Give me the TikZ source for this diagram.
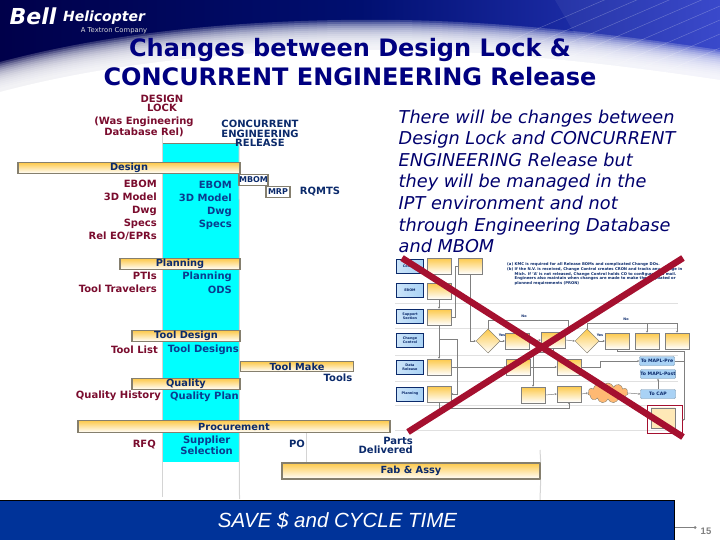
\documentclass[tikz,border=0pt]{standalone}
\usepackage{fontspec}
\usepackage{xcolor}
\usetikzlibrary{arrows.meta, shapes.geometric, shapes.symbols}
\setmainfont{DejaVu Sans}
\newfontfamily\arialfont{Liberation Sans}
\definecolor{navyTitle}{HTML}{000080}
\definecolor{navyText}{HTML}{0B2A6B}
\definecolor{blueText}{HTML}{0A3D8F}
\definecolor{maroonText}{HTML}{7A0C2E}
\definecolor{barTop}{HTML}{FDC94A}
\definecolor{barEdge}{HTML}{857F6E}
\definecolor{guideGray}{HTML}{D4D4D4}
\definecolor{crossRed}{HTML}{A5102F}
\definecolor{laneBlue}{HTML}{A9D2F5}
\definecolor{saveBlue}{HTML}{003399}
\definecolor{phaseCyan}{HTML}{00FFFF}
\definecolor{skyLeft}{HTML}{00004A}
\definecolor{skyMid}{HTML}{000F70}
\definecolor{skyRight}{HTML}{2E3EC8}
\tikzset{
  bar/.style={draw=barEdge, line width=1.4pt, top color=barTop, bottom color=white, inner sep=0pt,
    text=navyText, font=\fontsize{9.8}{10}\selectfont\bfseries},
  lock/.style={anchor=east, inner sep=0pt, text=maroonText, font=\fontsize{10}{9}\selectfont\bfseries},
  release/.style={anchor=east, inner sep=0pt, text=blueText, font=\fontsize{10}{9}\selectfont\bfseries},
  later/.style={inner sep=0pt, text=navyText, font=\fontsize{10}{9.4}\selectfont\bfseries},
  guide/.style={draw=guideGray, line width=1pt},
  mini/.style={font=\fontsize{3.4}{3.8}\selectfont\bfseries, text=navyText, align=center, inner sep=0pt},
  lanebox/.style={mini, draw=navyText, line width=.7pt, left color=laneBlue!60!white, right color=laneBlue, minimum width=27pt, minimum height=14pt},
  stepbox/.style={mini, draw=gray, line width=.5pt, top color=barTop, bottom color=white, minimum width=24pt, minimum height=16pt},
  tobox/.style={mini, font=\fontsize{4.6}{5}\selectfont\bfseries, draw=laneBlue!70!black, line width=.4pt, fill=laneBlue, rounded corners=1pt, minimum width=35pt, minimum height=9pt},
  gate/.style={mini, diamond, aspect=1, draw=barEdge, line width=.5pt, top color=barTop, bottom color=white, minimum size=24pt},
  flow/.style={draw=gray, line width=.5pt},
  flowto/.style={flow, ->, >={Stealth[length=2pt,width=2pt]}},
  lanerule/.style={draw=black!12, line width=.4pt},
  crossbar/.style={draw=crossRed, line width=6.5pt},
}
\begin{document}
\begin{tikzpicture}[x=1pt, y=-1pt, >=Stealth]
    \useasboundingbox (0,0) rectangle (720,540);
    % header
    \shade[left color=skyLeft, right color=skyRight, middle color=skyMid] (0,0) rectangle (720,96);
    \fill[white, opacity=.06] (555,0) -- (720,0) -- (720,60) -- (590,60) -- cycle;
    \foreach \n in {0,14,...,98} {
      \draw[white, opacity=.25, line width=.5pt] (500,45+\n) -- (720,-50+\n);
    }
    \foreach \d in {0,2,...,26} {
      \fill[white, opacity=.2] (0,88-\d) .. controls (120,56-\d) and (260,44-\d) .. (400,46-\d)
        .. controls (520,48-\d) and (640,64-\d) .. (720,76-\d) -- (720,97) -- (0,97) -- cycle;
    }
    \fill[white] (0,92) .. controls (120,60) and (260,48) .. (400,50)
        .. controls (520,52) and (640,68) .. (720,80) -- (720,97) -- (0,97) -- cycle;
    \node[text=white, font=\fontsize{22}{22}\selectfont\bfseries\itshape, inner sep=0pt] (logoBell) at (33,16) {Bell};
    \node[text=white, font=\fontsize{14}{14}\selectfont\bfseries\itshape, inner sep=0pt] (logoHeli) at (104,18) {Helicopter};
    \node[text=white!85!black, font=\fontsize{6.8}{7}\selectfont, inner sep=0pt] (logoSub) at (114,31) {A Textron Company};
    % title
    \node[text=navyTitle, align=center, inner sep=0pt, font=\fontsize{24}{29}\selectfont\bfseries] (title) at (350,62)
      {Changes between Design Lock \&\\CONCURRENT ENGINEERING Release};
    % phase column and gate lines
    \node[fill=phaseCyan, minimum width=76pt, minimum height=318pt, inner sep=0pt] (phase) at (201,303) {};
    \draw[draw=barEdge, line width=1.4pt] (phase.north west) -- (phase.north east);
    \coordinate (lockTop) at (162.5,134);
    \coordinate (lockEnd) at (162.5,497);
    \coordinate (relEnd) at (239.5,499);
    \draw[guide] (lockTop) -- (lockEnd);
    \draw[guide] (phase.north east) -- (relEnd);
    % bars
    \node[bar, minimum width=222pt, minimum height=11pt] (design) at (129,168) {Design};
    \node[bar, minimum width=120pt, minimum height=11pt] (planning) at (180,264) {Planning};
    \node[bar, minimum width=108pt, minimum height=11pt] (toolDesign) at (186,336) {Tool Design};
    \node[bar, minimum width=113pt, minimum height=10pt] (toolMake) at (297,366.5) {Tool Make};
    \node[bar, minimum width=108pt, minimum height=11pt] (quality) at (186,384) {Quality};
    \node[bar, minimum width=312pt, minimum height=12pt] (procure) at (234,426.5) {Procurement};
    \node[bar, minimum width=258pt, minimum height=16pt] (fab) at (411,471) {Fab \& Assy};
    \draw[guide] (procure.south -| 306,0) -- (fab.north -| 306,0);
    \draw[guide] (540,450) -- (fab.north east);
    \draw[guide] (fab.south east) -- (540,500);
    % small boxes
    \node[bar, top color=white, minimum width=25pt, minimum height=11pt, font=\fontsize{8}{8}\selectfont\bfseries] (mbom) at (253.5,180) {MBOM};
    \node[bar, top color=white, minimum width=24pt, minimum height=11pt, font=\fontsize{8}{8}\selectfont\bfseries] (mrp) at (278,192) {MRP};
    \node[later] (rqmts) at (320,192) {RQMTS};
    % header labels
    \node[inner sep=0pt, align=center, text=maroonText, font=\fontsize{10}{9}\selectfont\bfseries] (lockHead) at (162,103) {DESIGN\\LOCK};
    \node[inner sep=0pt, align=center, text=maroonText, font=\fontsize{10}{9}\selectfont\bfseries] (wasHead) at (144,127) {(Was Engineering\\Database Rel)};
    \node[later, align=center] (relHead) at (260,133.5) {CONCURRENT\\ENGINEERING\\RELEASE};
    % design lock outputs
    \node[lock] (lockEbom) at (157,184) {EBOM};
    \node[lock] (lockModel) at (157,197) {3D Model};
    \node[lock] (lockDwg) at (157,211) {Dwg};
    \node[lock] (lockSpecs) at (157,224) {Specs};
    \node[lock] (lockRel) at (157,236) {Rel EO/EPRs};
    \node[lock] (lockPti) at (157,276) {PTIs};
    \node[lock] (lockTrav) at (157,289) {Tool Travelers};
    \node[lock] (lockList) at (158,350) {Tool List};
    \node[lock] (lockHist) at (161,396) {Quality History};
    \node[lock] (lockRfq) at (156,445) {RFQ};
    % release outputs
    \node[release] (relEbom) at (232,185) {EBOM};
    \node[release] (relModel) at (232,198) {3D Model};
    \node[release] (relDwg) at (232,212) {Dwg};
    \node[release] (relSpecs) at (232,225) {Specs};
    \node[release] (relPlan) at (232,277) {Planning};
    \node[release] (relOds) at (232,290) {ODS};
    \node[release] (relTools) at (239,350) {Tool Designs};
    \node[release] (relQual) at (239,397) {Quality Plan};
    \node[release, align=center] (relSupp) at (233,445.5) {Supplier\\Selection};
    \node[later] (tools) at (338,378) {Tools};
    \node[later] (po) at (297,444) {PO};
    \node[later, anchor=east, align=right] (parts) at (413,445.5) {Parts\\Delivered};
    % side note
    \node[anchor=north west, inner sep=0pt, text=navyTitle!85!black, align=left, font=\fontsize{17.7}{21.6}\selectfont\itshape] (note) at (398.5,109.5)
      {There will be changes between\\Design Lock and CONCURRENT\\ENGINEERING Release but\\they will be managed in the\\IPT environment and not\\through Engineering Database\\and MBOM};
    % small flow chart
    \foreach \y in {303,328,355,381,405,430} {
      \draw[lanerule] (395,\y) -- (678,\y);
    }
    \node[lanebox] (laneTop) at (410,266) {Control};
    \node[lanebox] (laneEbom) at (410,290) {EBOM};
    \node[lanebox] (laneSupp) at (410,316) {Support\\Section};
    \node[lanebox] (laneChange) at (410,340) {Change\\Control};
    \node[lanebox] (laneData) at (410,367) {Data\\Release};
    \node[lanebox] (lanePlan) at (410,394) {Planning};
    \node[stepbox] (boxTop) at (439,266) {};
    \node[stepbox] (boxEbom) at (439,291) {};
    \node[stepbox] (boxSupp) at (439,317) {};
    \node[stepbox] (boxData) at (439,367) {};
    \node[stepbox] (boxPlan) at (439,394) {};
    \node[stepbox] (boxLog) at (470,266) {};
    \node[gate] (gateOne) at (488,341) {};
    \node[stepbox] (boxCreate) at (517,341) {};
    \node[stepbox] (boxMid) at (553,340) {};
    \node[gate] (gateTwo) at (587,341) {};
    \node[stepbox] (boxA) at (617,341) {};
    \node[stepbox] (boxB) at (647,341) {};
    \node[stepbox] (boxC) at (677,341) {};
    \node[stepbox] (boxRev) at (518,367) {};
    \node[stepbox] (boxOut) at (569,367) {};
    \node[stepbox] (boxPrep) at (533,395) {};
    \node[stepbox] (boxHold) at (569,394) {};
    \node[cloud, cloud puffs=11, aspect=2, draw=barEdge, line width=.4pt, fill=orange!55!white, minimum width=40pt, minimum height=20pt, inner sep=0pt] (cloudStep) at (608,393) {};
    \node[tobox] (toPre) at (657,361) {To MAPL-Pre};
    \node[tobox] (toPost) at (658,374) {To MAPL-Post};
    \node[tobox] (toCap) at (658,394) {To CAP};
    \node[draw=crossRed, line width=.7pt, minimum width=35pt, minimum height=28pt, inner sep=0pt] (redBox) at (664.5,419) {};
    \node[cylinder, shape border rotate=90, aspect=.3, draw=gray, line width=.4pt, cylinder uses custom fill, cylinder end fill=barTop, cylinder body fill=barTop!40!white, minimum width=24pt, minimum height=20pt, inner sep=0pt] (store) at (663,418) {};
    \node[anchor=north west, inner sep=0pt, text=navyText, align=left, font=\fontsize{3.8}{4.6}\selectfont\bfseries] (notes) at (507,262)
      {(a) KMC is required for all Release BOMs and complicated Change DOs.\\[1pt]
       (b) If the N.V. is received, Change Control creates CRON and tracks any change in\\
       \hphantom{(b) }Mich. If 'A' is not released, Change Control holds CO to configure as a mail.\\
       \hphantom{(b) }Engineers also maintain when changes are made to make them updated or\\
       \hphantom{(b) }planned requirements (PRON)};
    \node[mini] (yesOne) at (502,335) {Yes};
    \node[mini] (noOne) at (524,316) {No};
    \node[mini] (yesTwo) at (600,335) {Yes};
    \node[mini] (noTwo) at (626,319) {No};
    % flow lines
    \draw[flowto] (boxEbom.south) -- (boxSupp.north);
    \draw[flowto] (boxSupp.south) -- (boxData.north);
    \draw[flow] (boxSupp.east) -- (455,317) |- (boxLog.west);
    \draw[flowto] (boxLog.south) |- (gateOne.west);
    \draw[flowto] (439,339) -| (457,394) -- (boxPlan.east);
    \draw[flowto] (gateOne.east) -- (boxCreate.west);
    \draw[flowto] (boxCreate.east) -- (boxMid.west);
    \draw[flowto] (boxMid.east) -- (gateTwo.west);
    \draw[flowto] (gateTwo.east) -- (boxA.west);
    \draw[flowto] (gateOne.north) |- (568,320) -- (568,332);
    \draw[flow] (gateTwo.north) |- (boxC.north |- 323,323);
    \draw[flowto] (boxB.north |- 323,323) -- (boxB.north);
    \draw[flowto] (boxC.north |- 323,323) -- (boxC.north);
    \draw[flowto] (boxData.east) -- (boxRev.west);
    \draw[flowto] (boxRev.east) -- (boxOut.west);
    \draw[flowto] (boxOut.east) -- (600,367) |- (toPre.west);
    \draw[flowto] (boxMid.south) |- (533,352) -- (boxPrep.north);
    \draw[flowto] (boxPrep.east) -- (boxHold.west);
    \draw[flowto] (boxHold.east) -- (cloudStep.west);
    \draw[flowto] (cloudStep.east) -- (toCap.west);
    \draw[flowto] (toCap.north) -- (toPost.south);
    \draw[flowto] (boxPlan.south) |- (569,408) -- (boxHold.south);
    \draw[flow] (boxA.south) |- (684,351) -- (684,420);
    \draw[flow] (toPre.east) -- (684,361);
    \draw[flowto] (684,420) -- (redBox.east);
    % big cross
    \coordinate (crossA) at (402,258);
    \coordinate (crossB) at (683,437);
    \coordinate (crossC) at (683,258);
    \coordinate (crossD) at (408,432);
    \draw[crossbar] (crossA) -- (crossB);
    \draw[crossbar] (crossC) -- (crossD);
    % footer
    \node[fill=saveBlue, draw=black, line width=.6pt, minimum width=675pt, minimum height=40pt, inner sep=0pt] (saveBanner) at (337,520.5) {};
    \node[text=white, inner sep=0pt, font=\arialfont\fontsize{20.5}{21}\selectfont\itshape] (saveText) at (337.5,521) {SAVE \$ and CYCLE TIME};
    \coordinate (tickEnd) at (695,527.5);
    \draw[draw=gray, line width=1pt] (saveBanner.east |- tickEnd) -- (tickEnd);
    \fill[gray] (tickEnd) circle (1.5);
    \node[text=gray, inner sep=0pt, font=\arialfont\fontsize{9.5}{10}\selectfont\bfseries] (pageNo) at (706,531) {15};
\end{tikzpicture}
\end{document}
